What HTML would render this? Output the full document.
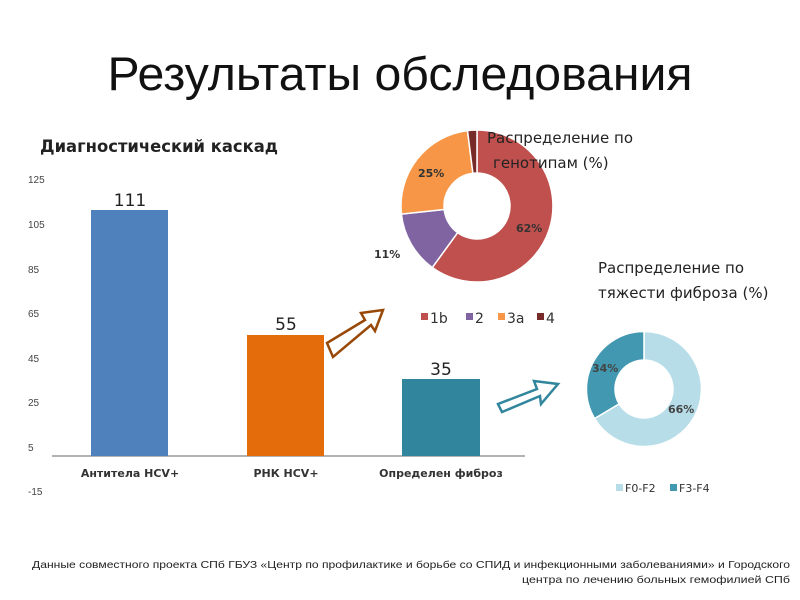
<!DOCTYPE html>
<html><head><meta charset="utf-8"><style>
body{margin:0;background:#fff;}
svg{display:block;font-family:"Liberation Sans","DejaVu Sans",sans-serif;}
</style></head><body>
<svg width="800" height="600" viewBox="0 0 800 600" xmlns="http://www.w3.org/2000/svg">
<text x="400" y="90" text-anchor="middle" font-size="47" fill="#111" textLength="585" lengthAdjust="spacingAndGlyphs">Результаты обследования</text>
<text x="40" y="152" font-size="17" font-weight="bold" fill="#222" font-family="DejaVu Sans, sans-serif" textLength="238" lengthAdjust="spacingAndGlyphs">Диагностический каскад</text>
<g font-size="10" fill="#444">
<text x="28" y="183">125</text><text x="28" y="228">105</text><text x="28" y="273">85</text>
<text x="28" y="317">65</text><text x="28" y="362">45</text><text x="28" y="406">25</text>
<text x="28" y="451">5</text><text x="28" y="495">-15</text>
</g>
<line x1="52" y1="456" x2="525" y2="456" stroke="#999" stroke-width="1.5"/>
<rect x="91" y="210" width="77" height="246" fill="#4f81bd"/>
<rect x="247" y="335" width="77" height="121" fill="#e46c0a"/>
<rect x="402" y="379" width="78" height="77" fill="#31859c"/>
<g font-size="17" text-anchor="middle" fill="#222" font-family="DejaVu Sans, sans-serif">
<text x="130" y="206">111</text><text x="286" y="330">55</text><text x="441" y="375">35</text>
</g>
<g font-size="11" font-weight="bold" text-anchor="middle" fill="#333" font-family="DejaVu Sans, sans-serif">
<text x="130" y="477">Антитела HCV+</text><text x="286" y="477">РНК HCV+</text><text x="441" y="477">Определен фиброз</text>
</g>
<polygon points="327,343 365,320 361,313 383,310 375,331 371,325 333,357" fill="#fff" stroke="#984807" stroke-width="2.5"/>
<polygon points="498,404 537,389 534,381 558,384 541,404 540,396 502,412" fill="#fff" stroke="#31859c" stroke-width="2.5"/>
<g transform="translate(477,206)" stroke="#fff" stroke-width="1.5">
<path d="M0,-76 A76,76 0 1,1 -44.7,61.5 L-19.4,26.7 A33,33 0 1,0 0,-33Z" fill="#c0504d"/>
<path d="M-44.7,61.5 A76,76 0 0,1 -75.6,8.1 L-32.8,3.5 A33,33 0 0,0 -19.4,26.7Z" fill="#8064a2"/>
<path d="M-75.6,8.1 A76,76 0 0,1 -9.5,-75.4 L-4.1,-32.7 A33,33 0 0,0 -32.8,3.5Z" fill="#f79646"/>
<path d="M-9.5,-75.4 A76,76 0 0,1 0,-76 L0,-33 A33,33 0 0,0 -4.1,-32.7Z" fill="#772c2a"/>
</g>
<g font-size="11" font-weight="bold" fill="#333" font-family="DejaVu Sans, sans-serif">
<text x="418" y="177">25%</text><text x="516" y="232">62%</text><text x="374" y="258">11%</text>
</g>
<text x="487" y="143" font-size="15" fill="#222" font-family="DejaVu Sans, sans-serif">Распределение по</text>
<text x="493" y="168" font-size="15" fill="#222" font-family="DejaVu Sans, sans-serif">генотипам (%)</text>
<g font-size="14" fill="#333" font-family="DejaVu Sans, sans-serif">
<rect x="421" y="313" width="7" height="7" fill="#c0504d"/><text x="430" y="323">1b</text>
<rect x="466" y="313" width="7" height="7" fill="#8064a2"/><text x="475" y="323">2</text>
<rect x="498" y="313" width="7" height="7" fill="#f79646"/><text x="507" y="323">3a</text>
<rect x="537" y="313" width="7" height="7" fill="#772c2a"/><text x="546" y="323">4</text>
</g>
<text x="598" y="273" font-size="15" fill="#222" font-family="DejaVu Sans, sans-serif">Распределение по</text>
<text x="598" y="298" font-size="15" fill="#222" font-family="DejaVu Sans, sans-serif">тяжести фиброза (%)</text>
<g transform="translate(644,389)" stroke="#fff" stroke-width="1.5">
<path d="M0,-57.5 A57.5,57.5 0 1,1 -49.4,29.5 L-24.9,14.9 A29,29 0 1,0 0,-29Z" fill="#b7dde8"/>
<path d="M-49.4,29.5 A57.5,57.5 0 0,1 0,-57.5 L0,-29 A29,29 0 0,0 -24.9,14.9Z" fill="#4198b0"/>
</g>
<g font-size="11" font-weight="bold" fill="#444" font-family="DejaVu Sans, sans-serif">
<text x="592" y="372">34%</text><text x="668" y="413">66%</text>
</g>
<g font-size="11" fill="#333" font-family="DejaVu Sans, sans-serif">
<rect x="616" y="484" width="7" height="7" fill="#b7dde8"/><text x="625" y="492">F0-F2</text>
<rect x="670" y="484" width="7" height="7" fill="#4198b0"/><text x="679" y="492">F3-F4</text>
</g>
<g font-size="10.5" fill="#222" text-anchor="end">
<text x="790" y="568" textLength="758" lengthAdjust="spacingAndGlyphs">Данные совместного проекта СПб ГБУЗ «Центр по профилактике и борьбе со СПИД и инфекционными заболеваниями» и Городского</text>
<text x="790" y="583" textLength="268" lengthAdjust="spacingAndGlyphs">центра по лечению больных гемофилией СПб</text>
</g>
</svg>
</body></html>
